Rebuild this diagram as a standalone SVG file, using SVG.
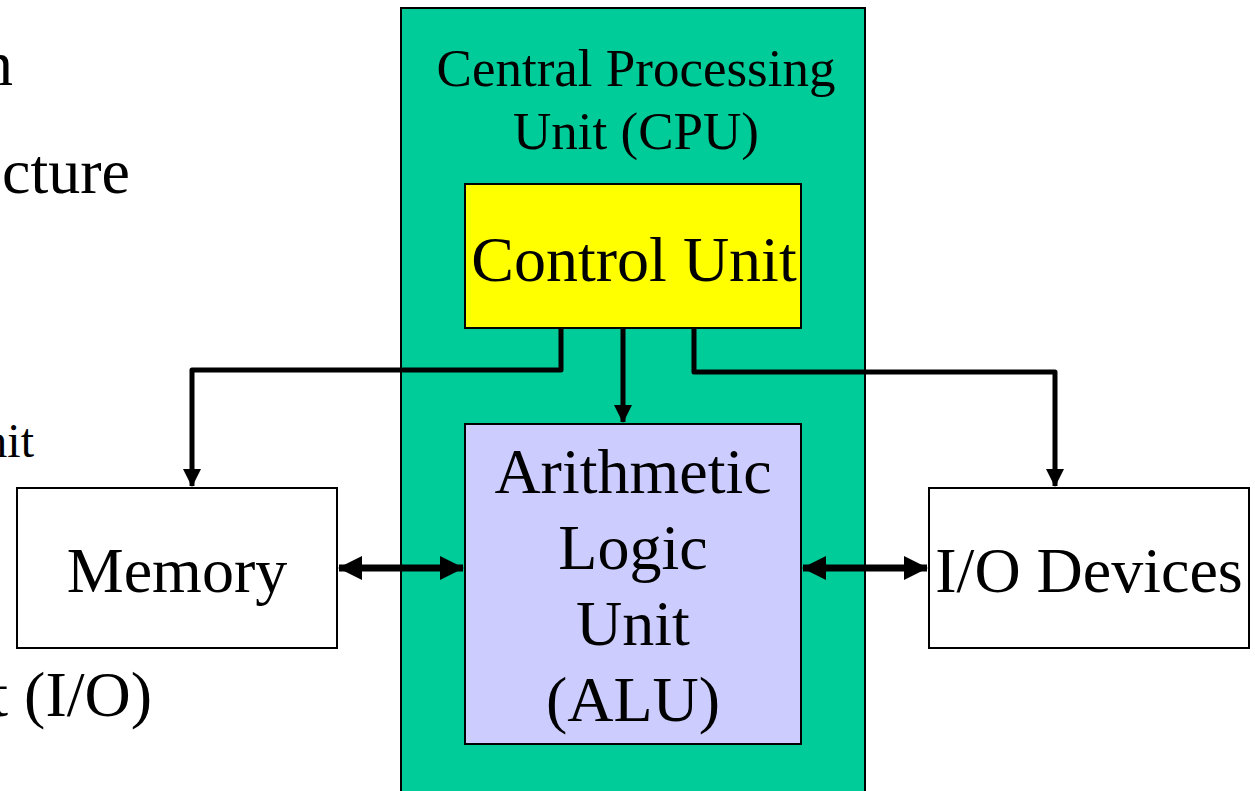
<svg xmlns="http://www.w3.org/2000/svg" width="1255" height="791" viewBox="0 0 1255 791">
  <style>
    text { font-family: "Liberation Serif", "Times New Roman", serif; fill: #000; }
    .big { font-size: 64px; }
    .mid { font-size: 53px; }
    .box { stroke: #000; stroke-width: 2; }
    .wire { fill: none; stroke: #000; stroke-width: 5; stroke-linejoin: round; }
    .bus { fill: none; stroke: #000; stroke-width: 7; }
  </style>
  <defs>
    <marker id="tip" markerUnits="userSpaceOnUse" markerWidth="18" markerHeight="18" viewBox="0 0 18 18" refX="17" refY="9" orient="auto">
      <path d="M0,0 L18,9 L0,18 Z" fill="#000"/>
    </marker>
    <marker id="tipBig" markerUnits="userSpaceOnUse" markerWidth="24" markerHeight="24" viewBox="0 0 24 24" refX="23" refY="12" orient="auto-start-reverse">
      <path d="M0,0 L24,12 L0,24 Z" fill="#000"/>
    </marker>
  </defs>

  <rect width="1255" height="791" fill="#fff"/>

  <!-- background slide text, clipped at the left edge -->
  <g id="slide-text" class="big">
    <text x="13" y="85" text-anchor="end">n</text>
    <text x="130" y="193" text-anchor="end">cture</text>
    <text x="34" y="457" text-anchor="end" style="font-size:48px">nit</text>
    <text x="152" y="716" text-anchor="end">t (I/O)</text>
  </g>

  <g id="cpu">
    <rect class="box" x="401" y="8" width="464" height="800" fill="#00CC99"/>
    <text class="mid" x="636" y="86" text-anchor="middle">Central Processing</text>
    <text class="mid" x="636" y="149" text-anchor="middle">Unit (CPU)</text>
  </g>

  <g id="control-unit">
    <rect class="box" x="465" y="184" width="336" height="144" fill="#FFFF00"/>
    <text class="big" x="634" y="281" text-anchor="middle">Control Unit</text>
  </g>

  <g id="alu">
    <rect class="box" x="465" y="424" width="336" height="320" fill="#CCCCFF"/>
    <text class="big" x="633" y="493" text-anchor="middle">Arithmetic</text>
    <text class="big" x="633" y="569" text-anchor="middle">Logic</text>
    <text class="big" x="633" y="645" text-anchor="middle">Unit</text>
    <text class="big" x="633" y="721" text-anchor="middle">(ALU)</text>
  </g>

  <g id="memory">
    <rect class="box" x="17" y="488" width="320" height="160" fill="#fff"/>
    <text class="big" x="177" y="592" text-anchor="middle">Memory</text>
  </g>

  <g id="io-devices">
    <rect class="box" x="929" y="488" width="320" height="160" fill="#fff"/>
    <text class="big" x="1089" y="592" text-anchor="middle">I/O Devices</text>
  </g>

  <g id="connectors">
    <path class="wire" d="M561,329 V370 H192 V486" marker-end="url(#tip)"/>
    <path class="wire" d="M623,329 V422" marker-end="url(#tip)"/>
    <path class="wire" d="M694,329 V372 H1055 V486" marker-end="url(#tip)"/>
    <path class="bus" d="M339,568 H463" marker-start="url(#tipBig)" marker-end="url(#tipBig)"/>
    <path class="bus" d="M803,568 H927" marker-start="url(#tipBig)" marker-end="url(#tipBig)"/>
  </g>
</svg>
